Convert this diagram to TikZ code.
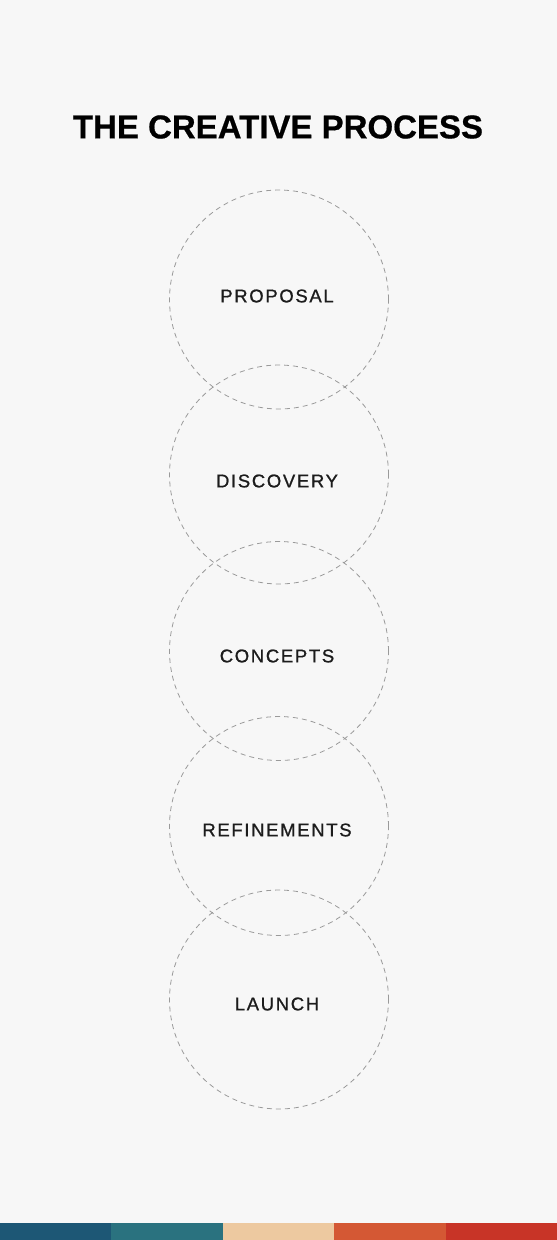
\documentclass[tikz,border=0pt]{standalone}
\usepackage{fontspec}
\setmainfont{Liberation Sans}
\newfontfamily\labelfont[LetterSpace=9,FakeBold=0.9]{Liberation Sans}
\newfontfamily\titlefont[FakeBold=0.6]{Liberation Sans Bold}
\definecolor{bg}{HTML}{F7F7F7}
\definecolor{ring}{HTML}{9A9A9A}
\definecolor{ink}{HTML}{1C1C1C}
\definecolor{cA}{HTML}{1D5775}
\definecolor{cB}{HTML}{2A727F}
\definecolor{cC}{HTML}{EDC9A0}
\definecolor{cD}{HTML}{D45834}
\definecolor{cE}{HTML}{C83427}
\begin{document}
\begin{tikzpicture}[x=1pt,y=-1pt,
  stage/.style={circle,draw=ring,line width=0.8pt,dash pattern=on 5pt off 4pt,minimum size=219pt,inner sep=0pt},
  stagelabel/.style={text=ink,font=\labelfont\fontsize{18.5}{20}\selectfont,inner sep=0pt},
  barseg/.style={inner sep=0pt,outer sep=0pt,minimum width=111.4pt,minimum height=17pt,anchor=north west}]
\fill[bg] (0,0) rectangle (557,1240);
\useasboundingbox (0,0) rectangle (557,1240);
\node[font=\titlefont\fontsize{33}{36}\selectfont,text=black,inner sep=0pt] (title) at (278,127) {THE CREATIVE PROCESS};
\node[stage] (c1) at (279,299.5) {};
\node[stage] (c2) at (279,474.5) {};
\node[stage] (c3) at (279,651) {};
\node[stage] (c4) at (279,826) {};
\node[stage] (c5) at (279,999.5) {};
\node[stagelabel] (l1) at (277,296) {PROPOSAL};
\node[stagelabel] (l2) at (277,481) {DISCOVERY};
\node[stagelabel] (l3) at (277,656) {CONCEPTS};
\node[stagelabel] (l4) at (277,830) {REFINEMENTS};
\node[stagelabel] (l5) at (277,1004) {LAUNCH};
\node[barseg,fill=cA] (b1) at (0,1223) {};
\node[barseg,fill=cB] (b2) at (111.4,1223) {};
\node[barseg,fill=cC] (b3) at (222.8,1223) {};
\node[barseg,fill=cD] (b4) at (334.2,1223) {};
\node[barseg,fill=cE] (b5) at (445.6,1223) {};
\end{tikzpicture}
\end{document}
